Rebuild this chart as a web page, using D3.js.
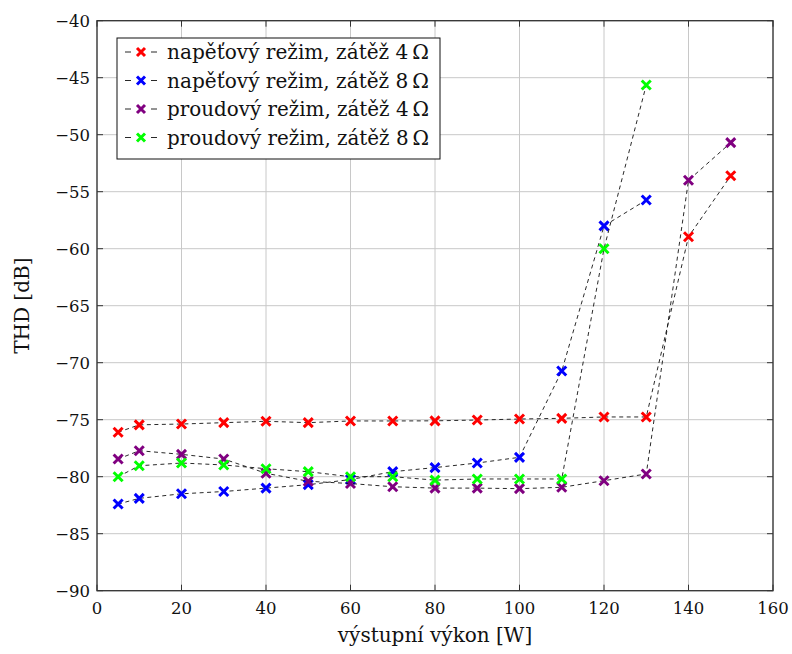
<!DOCTYPE html>
<html lang="cs">
<head>
<meta charset="UTF-8">
<title>THD</title>
<script src="https://d3js.org/d3.v7.min.js"></script>
<style>
    body { margin: 0; background: #fff; }
    svg { display: block; }
    .grid line { stroke: #c8c8c8; stroke-width: 1; }
    .tick-label { font-family: 'DejaVu Serif', serif; font-size: 16.5px; fill: #111; }
    .label { font-family: 'DejaVu Serif', serif; font-size: 20px; fill: #111; }
    .conn { fill: none; stroke: #111; stroke-width: 0.9; stroke-dasharray: 4,3.5; }
</style>
</head>
<body>
<svg width="792" height="654"></svg>
<script>
// data
const power = [5, 10, 20, 30, 40, 50, 60, 70, 80, 90, 100, 110, 120, 130, 140, 150];
const napeti4 = [-76.1, -75.45, -75.38, -75.26, -75.14, -75.26, -75.11, -75.11, -75.1, -75.03, -74.94, -74.88, -74.76, -74.76, -58.95, -53.6];
const power8 = [5, 10, 20, 30, 40, 50, 60, 70, 80, 90, 100, 110, 120, 130];
const napeti8 = [-82.4, -81.9, -81.5, -81.3, -81.0, -80.7, -80.25, -79.56, -79.2, -78.8, -78.3, -70.73, -58.0, -55.73];
const proud4 = [-78.45, -77.72, -78.04, -78.45, -79.7, -80.4, -80.6, -80.88, -81.0, -81.0, -81.05, -80.93, -80.35, -79.76, -54.0, -50.7];
const proud8 = [-80.0, -79.04, -78.8, -78.97, -79.3, -79.56, -80.0, -80.0, -80.3, -80.2, -80.2, -80.2, -60.0, -45.64];

const xTicks = [0, 20, 40, 60, 80, 100, 120, 140, 160];
const yTicks = [-90, -85, -80, -75, -70, -65, -60, -55, -50, -45, -40];

const series = [
    { name: "napěťový režim, zátěž 4\u2009Ω", color: "#ff0000", xs: power, ys: napeti4 },
    { name: "napěťový režim, zátěž 8\u2009Ω", color: "#0000ff", xs: power8, ys: napeti8 },
    { name: "proudový režim, zátěž 4\u2009Ω", color: "#800080", xs: power, ys: proud4 },
    { name: "proudový režim, zátěž 8\u2009Ω", color: "#00ff00", xs: power8, ys: proud8 }
];

const svg = d3.select("svg");
const pLeft = 97, pRight = 773, pTop = 20.7, pBottom = 590.7;

const x = d3.scaleLinear().domain([0, 160]).range([pLeft, pRight]);
const y = d3.scaleLinear().domain([-90, -40]).range([pBottom, pTop]);

// grid
const grid = svg.append("g").attr("class", "grid");
grid.selectAll(".gx").data(xTicks).enter().append("line")
    .attr("x1", d => x(d)).attr("x2", d => x(d))
    .attr("y1", pTop).attr("y2", pBottom);
grid.selectAll(".gy").data(yTicks).enter().append("line")
    .attr("x1", pLeft).attr("x2", pRight)
    .attr("y1", d => y(d)).attr("y2", d => y(d));

// ticks inward on all sides
const ticks = svg.append("g").attr("stroke", "#333").attr("stroke-width", 1);
xTicks.forEach(t => {
    ticks.append("line").attr("x1", x(t)).attr("x2", x(t)).attr("y1", pBottom).attr("y2", pBottom - 6);
    ticks.append("line").attr("x1", x(t)).attr("x2", x(t)).attr("y1", pTop).attr("y2", pTop + 6);
});
yTicks.forEach(t => {
    ticks.append("line").attr("x1", pLeft).attr("x2", pLeft + 6).attr("y1", y(t)).attr("y2", y(t));
    ticks.append("line").attr("x1", pRight).attr("x2", pRight - 6).attr("y1", y(t)).attr("y2", y(t));
});

// tick labels
svg.selectAll(".xl").data(xTicks).enter().append("text")
    .attr("class", "tick-label")
    .attr("x", d => x(d)).attr("y", pBottom + 23)
    .attr("text-anchor", "middle")
    .text(d => d);
svg.selectAll(".yl").data(yTicks).enter().append("text")
    .attr("class", "tick-label")
    .attr("x", pLeft - 7).attr("y", d => y(d) + 6)
    .attr("text-anchor", "end")
    .text(d => "\u2212" + Math.abs(d));

// axis labels
svg.append("text").attr("class", "label")
    .attr("x", (pLeft + pRight) / 2).attr("y", 642)
    .attr("text-anchor", "middle")
    .text("výstupní výkon [W]");
svg.append("text").attr("class", "label")
    .attr("transform", `translate(29,${(pTop + pBottom) / 2}) rotate(-90)`)
    .attr("text-anchor", "middle")
    .text("THD [dB]");

// series
const line = d3.line().x(d => x(d[0])).y(d => y(d[1]));
function cross(g, cx, cy, color, r) {
    g.append("path")
        .attr("d", `M${cx - r},${cy - r}L${cx + r},${cy + r}M${cx - r},${cy + r}L${cx + r},${cy - r}`)
        .attr("stroke", color).attr("stroke-width", 3).attr("fill", "none");
}
series.forEach(s => {
    const pts = s.xs.map((v, i) => [v, s.ys[i]]);
    const g = svg.append("g");
    g.append("path").attr("class", "conn").attr("d", line(pts));
    pts.forEach(p => cross(g, x(p[0]), y(p[1]), s.color, 4.5));
});

// frame
svg.append("rect")
    .attr("x", pLeft).attr("y", pTop)
    .attr("width", pRight - pLeft).attr("height", pBottom - pTop)
    .attr("fill", "none").attr("stroke", "#333").attr("stroke-width", 1.3);

// legend
const lg = svg.append("g");
lg.append("rect").attr("x", 117).attr("y", 38).attr("width", 323).attr("height", 121)
    .attr("fill", "#fff").attr("stroke", "#111").attr("stroke-width", 1);
series.forEach((s, i) => {
    const cy = 52 + i * 28.5;
    [[125, 131], [151, 157]].forEach(seg => {
        lg.append("line").attr("x1", seg[0]).attr("x2", seg[1]).attr("y1", cy).attr("y2", cy)
            .attr("stroke", "#111").attr("stroke-width", 0.9);
    });
    cross(lg, 141, cy, s.color, 4);
    lg.append("text").attr("class", "label")
        .attr("x", 167).attr("y", cy + 7)
        .attr("textLength", 262).attr("lengthAdjust", "spacingAndGlyphs")
        .text(s.name);
});
</script>
</body>
</html>
